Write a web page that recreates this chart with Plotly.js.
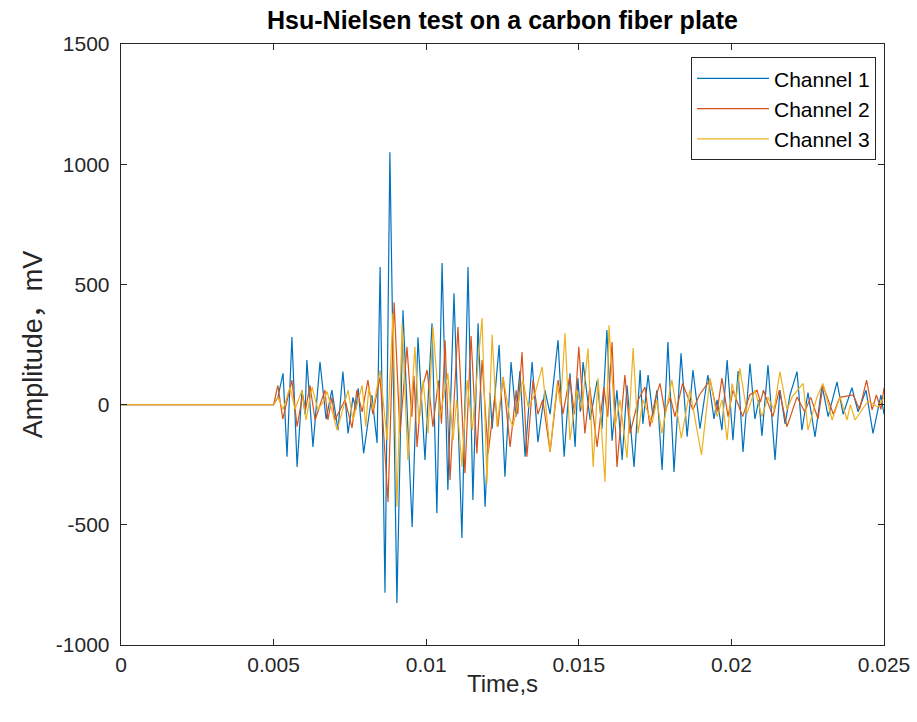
<!DOCTYPE html>
<html>
<head>
<meta charset="utf-8">
<script src="https://cdn.plot.ly/plotly-3.0.1.min.js"></script>
<style>html,body{margin:0;padding:0;background:#fff;}#chart{width:917px;height:722px;}</style>
</head>
<body>
<div id="chart"></div>
<script>
// Time of extrema in milliseconds, amplitude in mV
var ch1_t = [0,5.00,5.14,5.31,5.44,5.60,5.77,5.93,6.03,6.09,6.29,6.52,6.72,6.91,7.11,7.27,7.44,7.60,7.70,7.77,7.95,8.22,8.39,8.49,8.65,8.81,9.04,9.24,9.40,9.54,9.73,9.96,10.19,10.35,10.52,10.71,10.91,11.17,11.37,11.53,11.70,11.93,12.09,12.16,12.39,12.58,12.78,12.94,13.07,13.24,13.47,13.66,13.89,14.06,14.32,14.52,14.71,14.88,14.97,15.05,15.14,15.37,15.60,15.76,15.92,16.09,16.25,16.42,16.58,16.81,17.01,17.10,17.27,17.43,17.56,17.73,17.92,18.12,18.35,18.55,18.74,18.97,19.23,19.43,19.53,19.69,19.86,20.05,20.22,20.38,20.61,20.77,20.90,21.00,21.20,21.43,21.59,21.76,21.92,22.15,22.31,22.51,22.74,22.97,23.17,23.46,23.66,23.95,24.15,24.41,24.64,24.90,25.00];
var ch1_v = [0,0,30,130,-217,281,-259,60,-40,185,-176,177,-60,60,-106,137,-120,30,-20,68,-203,40,-160,572,-783,1050,-825,392,-100,-509,280,-230,338,-452,589,-355,463,-555,572,-397,338,-425,48,-100,248,-300,177,-50,140,-217,177,-156,60,-40,268,-217,130,-176,110,-30,177,-64,100,-100,310,-150,60,-230,80,-259,144,-80,123,-50,60,-272,260,-280,213,-134,144,-100,123,-60,20,-106,185,-148,140,-197,171,-60,20,-130,164,-230,60,-80,40,137,-106,50,-134,80,-50,94,-40,70,-30,60,-120,40,-40];

var ch2_t = [0,5.00,5.14,5.30,5.60,5.77,5.95,6.05,6.19,6.36,6.68,6.78,6.91,7.01,7.34,7.57,7.73,7.90,8.09,8.25,8.49,8.75,8.95,9.14,9.37,9.53,9.60,9.70,9.85,10.03,10.22,10.40,10.50,10.62,10.78,11.04,11.27,11.47,11.66,11.83,12.03,12.25,12.35,12.52,12.75,12.95,13.00,13.14,13.30,13.50,13.66,13.82,14.06,14.32,14.48,14.70,14.86,15.00,15.20,15.36,15.60,15.82,15.95,16.09,16.25,16.51,16.68,16.95,17.17,17.33,17.50,17.66,17.82,18.00,18.15,18.40,18.74,18.95,19.30,19.53,19.69,19.89,20.05,20.37,20.60,20.84,20.95,21.05,21.36,21.57,21.82,22.15,22.40,22.60,22.84,23.00,23.34,23.55,23.99,24.20,24.43,24.61,24.75,24.90,25.00];
var ch2_v = [0,0,80,-60,102,-92,40,-20,80,-64,60,-64,30,-64,20,-97,60,-30,102,-40,115,-405,426,-120,240,-50,120,-176,60,144,-92,100,-80,268,-314,323,-285,285,-203,185,-203,32,-92,115,-176,60,-40,219,-217,102,-40,20,-197,102,-40,115,-40,240,-120,73,-176,73,-50,260,-259,123,-120,20,73,-92,20,88,-30,30,-50,88,-22,40,102,-30,110,-50,60,-50,40,60,10,60,-50,60,-92,32,-30,30,-60,80,-40,30,40,-20,102,-22,40,-20,70];

var ch3_t = [0,5.00,5.14,5.31,5.54,5.70,5.93,6.06,6.26,6.45,6.62,6.75,7.08,7.44,7.60,7.90,8.02,8.12,8.26,8.49,8.72,8.91,9.04,9.21,9.40,9.63,9.76,9.90,10.06,10.22,10.45,10.71,10.88,11.00,11.17,11.34,11.51,11.83,11.99,12.16,12.32,12.52,12.75,12.84,13.17,13.34,13.55,13.80,14.06,14.29,14.40,14.55,14.71,14.94,15.10,15.30,15.47,15.63,15.86,15.99,16.19,16.35,16.58,16.78,16.94,17.10,17.40,17.56,17.72,18.05,18.36,18.64,19.02,19.30,19.53,19.70,19.86,20.02,20.15,20.28,20.51,20.77,21.00,21.20,21.40,21.59,21.82,21.99,22.35,22.51,22.80,23.00,23.30,23.56,23.79,23.90,24.05,24.48,24.80,25.00];
var ch3_v = [0,0,32,-20,73,-20,60,-64,73,-20,10,55,-106,60,-64,80,-92,73,-20,144,-148,380,-425,338,-230,240,-80,100,-120,323,-50,130,-148,20,-259,102,-106,360,-328,290,-92,115,-64,-92,102,-10,40,157,-197,88,0,297,-148,60,-22,233,-259,110,-322,330,-92,20,-222,235,-120,20,-77,20,-120,102,-140,60,-209,110,-50,20,-148,88,20,151,-36,60,-50,30,-20,137,-22,32,88,-106,30,88,-64,32,-64,0,-64,15,-10,30];

var seriesNames = ['Channel 1','Channel 2','Channel 3'];
var seriesColors = ['#0072BD','#D95319','#EDB120'];
var xTickVals = [0,0.005,0.01,0.015,0.02,0.025];
var xTickText = ['0','0.005','0.01','0.015','0.02','0.025'];
var yTickVals = [-1000,-500,0,500,1000,1500];
var yTickText = ['-1000','-500','0','500','1000','1500'];

function toSec(a){ return a.map(function(v){ return v/1000; }); }

var allT = [ch1_t, ch2_t, ch3_t];
var allV = [ch1_v, ch2_v, ch3_v];
var traces = allT.map(function(t, i){
  return {
    x: toSec(t), y: allV[i], type: 'scatter', mode: 'lines',
    name: seriesNames[i],
    line: {color: seriesColors[i], width: 1.2}
  };
});

var fontFam = 'Liberation Sans, Arial, Helvetica, sans-serif';
var axisCommon = {
  showgrid: false, zeroline: false, showline: true, mirror: 'ticks',
  linecolor: '#262626', linewidth: 1.3, ticks: 'inside', ticklen: 6,
  tickcolor: '#262626', tickwidth: 1.2, tickfont: {family: fontFam, size: 21, color: '#262626'}
};

var layout = {
  width: 917, height: 722,
  margin: {l: 121, r: 33, t: 44, b: 77},
  paper_bgcolor: '#ffffff', plot_bgcolor: '#ffffff',
  showlegend: true,
  title: {text: '<b>Hsu-Nielsen test on a carbon fiber plate</b>', x: 0.5, xref: 'paper', y: 0.972, yanchor: 'middle',
          font: {family: fontFam, size: 25, color: '#000000'}},
  xaxis: Object.assign({}, axisCommon, {
    range: [0, 0.025], tickvals: xTickVals, ticktext: xTickText, ticklabelstandoff: 0,
    title: {text: 'Time,s', standoff: 0, font: {family: fontFam, size: 24, color: '#262626'}}
  }),
  yaxis: Object.assign({}, axisCommon, {
    range: [-1000, 1500], tickvals: yTickVals, ticktext: yTickText, ticklabelstandoff: 6,
    title: {text: 'Amplitude，mV', standoff: 5, font: {family: fontFam + ', Noto Sans CJK SC', size: 27, color: '#262626'}}
  }),
  legend: {
    x: 0.9895, y: 0.978, xanchor: 'right', yanchor: 'top',
    bordercolor: '#262626', borderwidth: 1, bgcolor: '#ffffff',
    font: {family: fontFam, size: 21, color: '#000000'},
    itemwidth: 72, tracegroupgap: 0,
    entrywidth: 115, entrywidthmode: 'pixels'
  }
};

Plotly.newPlot('chart', traces, layout, {displayModeBar: false, staticPlot: true});
</script>
</body>
</html>
